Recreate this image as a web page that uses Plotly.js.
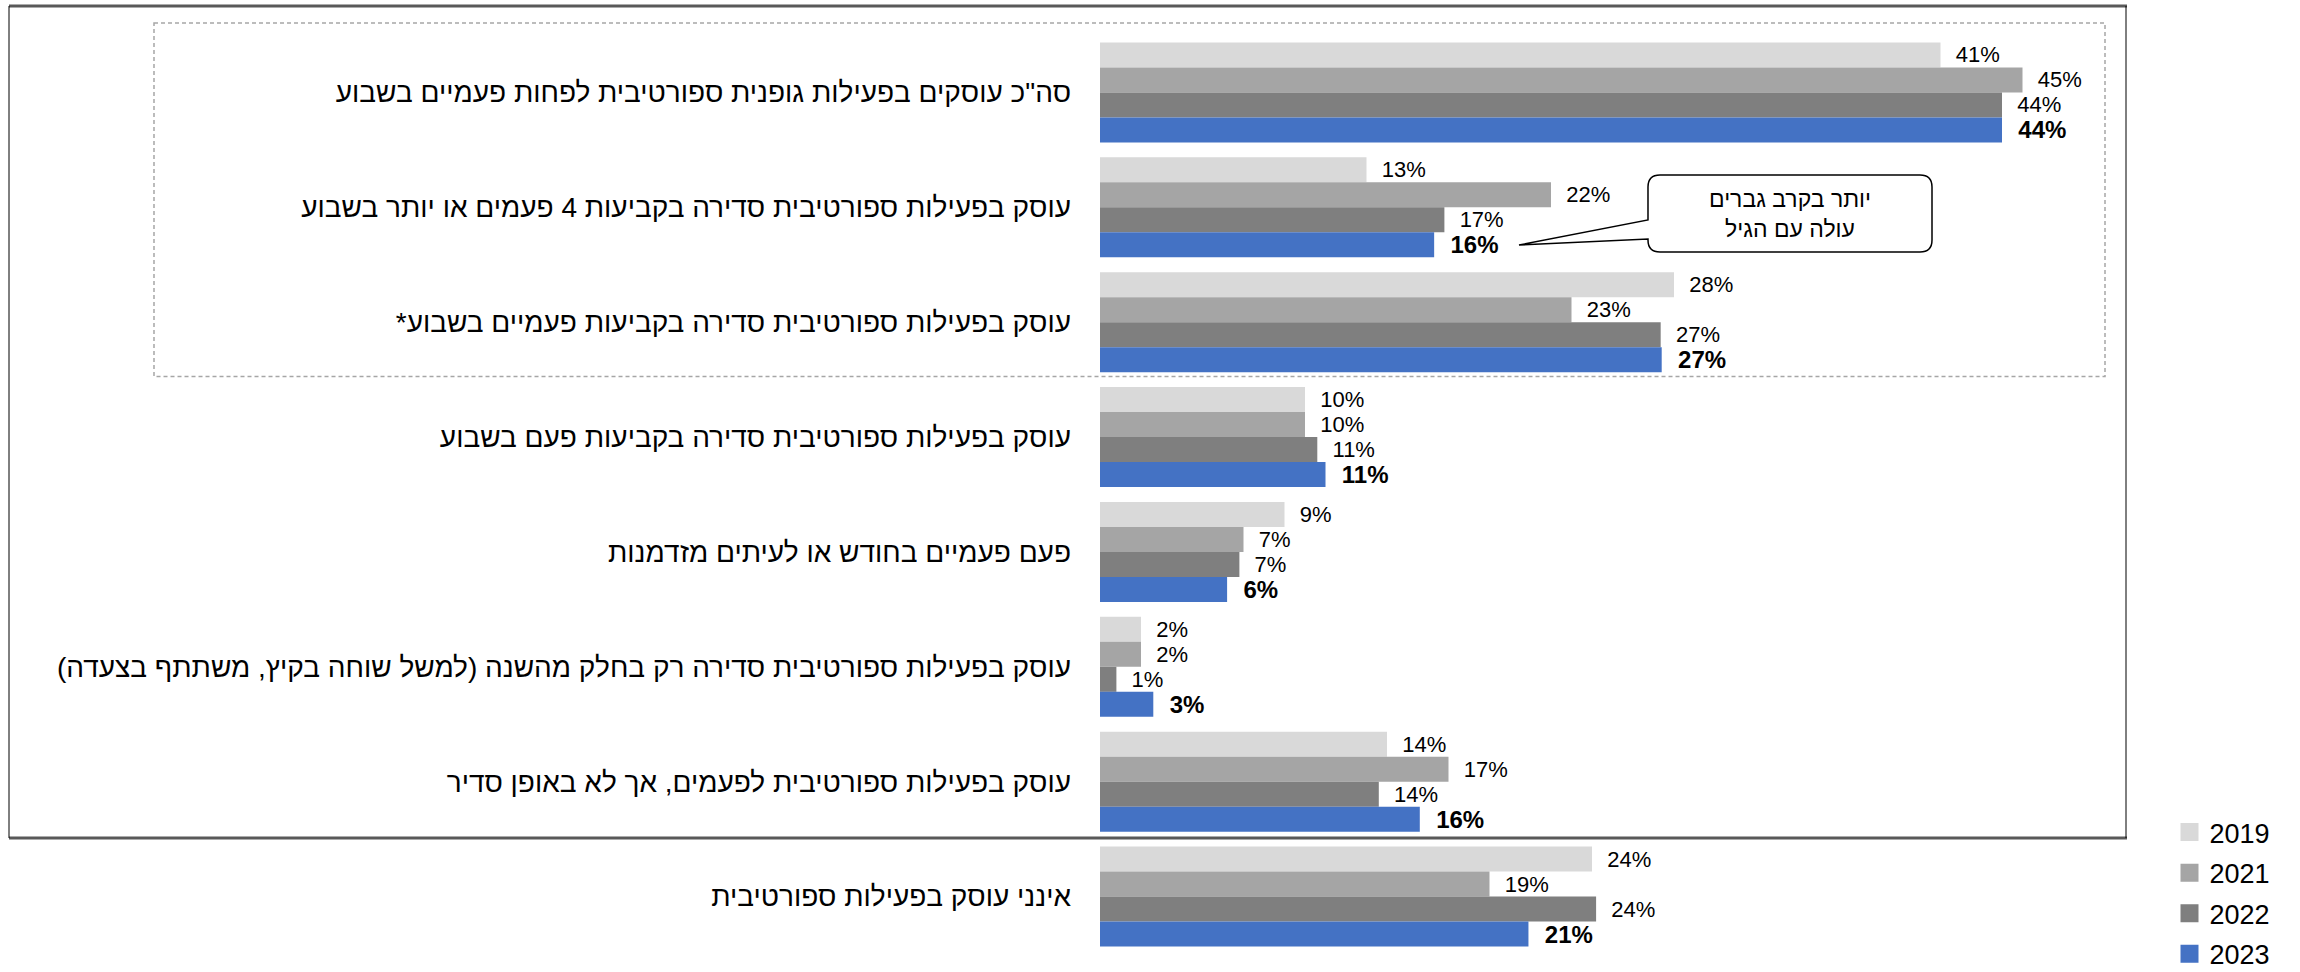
<!DOCTYPE html>
<html><head><meta charset="utf-8">
<script src="https://cdn.plot.ly/plotly-3.0.1.min.js"></script>
<style>html,body{margin:0;padding:0;background:#fff;} #chart{width:2300px;height:972px;}</style>
</head><body><div id="chart"></div>
<script>
const categories = [
  'סה"כ עוסקים בפעילות גופנית ספורטיבית לפחות פעמיים בשבוע',
  'עוסק בפעילות ספורטיבית סדירה בקביעות 4 פעמים או יותר בשבוע',
  'עוסק בפעילות ספורטיבית סדירה בקביעות פעמיים בשבוע*',
  'עוסק בפעילות ספורטיבית סדירה בקביעות פעם בשבוע',
  'פעם פעמיים בחודש או לעיתים מזדמנות',
  'עוסק בפעילות ספורטיבית סדירה רק בחלק מהשנה (למשל שוחה בקיץ, משתתף בצעדה)',
  'עוסק בפעילות ספורטיבית לפעמים, אך לא באופן סדיר',
  'אינני עוסק בפעילות ספורטיבית'
];
const years = ['2019', '2021', '2022', '2023'];
const v2019 = [41, 13, 28, 10, 9, 2, 14, 24];
const v2021 = [45, 22, 23, 10, 7, 2, 17, 19];
const v2022 = [44, 16.8, 27.35, 10.6, 6.8, 0.8, 13.6, 24.2];
const v2023 = [44, 16.3, 27.4, 11, 6.2, 2.6, 15.6, 20.9];
const calloutText = 'יותר בקרב גברים<br>עולה עם הגיל';

const colors = ['#D9D9D9', '#A5A5A5', '#7F7F7F', '#4472C4'];
const FONT = 'Liberation Sans, Arial, DejaVu Sans, sans-serif';
const RLM = '\u200F';
const NB = '\u00A0\u00A0';
const labels = categories.map(c => c + RLM);

const series = [v2019, v2021, v2022, v2023];
const traces = series.map((vals, i) => ({
  type: 'bar', orientation: 'h', name: years[i], legendgroup: years[i], showlegend: false,
  x: vals, y: labels,
  marker: {color: colors[i]},
  textposition: 'outside', cliponaxis: false, constraintext: 'none',
  texttemplate: i === 3 ? NB + '<b>%{x:.0f}%</b>' : NB + '%{x:.0f}%',
  textfont: {family: FONT, size: i === 3 ? 24 : 22, color: '#000'},
  hoverinfo: 'skip'
}));
// legend entries (square swatches like the original)
years.forEach((yr, i) => traces.push({
  type: 'scatter', mode: 'markers', name: yr, legendgroup: yr, showlegend: true,
  x: [null], y: [null],
  marker: {symbol: 'square', size: 16, color: colors[i], line: {color: colors[i], width: 2}},
  hoverinfo: 'skip'
}));

// pixel -> paper helpers for decorations
const L = 1100, W = 1025, T = 35, H = 919;
const px = x => ((x - L) / W).toFixed(5);
const py = y => (1 - (y - T) / H).toFixed(5);
const P = (x, y) => px(x) + ',' + py(y);

const cx0 = 1648, cx1 = 1932, cy0 = 175, cy1 = 252, r = 12;
const calloutPath = 'M' + P(cx0 + r, cy0) + ' L' + P(cx1 - r, cy0) + ' Q' + P(cx1, cy0) + ' ' + P(cx1, cy0 + r) +
  ' L' + P(cx1, cy1 - r) + ' Q' + P(cx1, cy1) + ' ' + P(cx1 - r, cy1) +
  ' L' + P(cx0 + r, cy1) + ' Q' + P(cx0, cy1) + ' ' + P(cx0, cy1 - r) +
  ' L' + P(cx0, 239) + ' L' + P(1519, 245) + ' L' + P(cx0, 220) +
  ' L' + P(cx0, cy0 + r) + ' Q' + P(cx0, cy0) + ' ' + P(cx0 + r, cy0) + ' Z';

const shapes = [
  {type: 'rect', xref: 'paper', yref: 'paper', x0: px(154), x1: px(2105), y0: py(23), y1: py(376.5),
   line: {color: '#A6A6A6', width: 1.5, dash: '4px,3px'}, layer: 'below'},
  {type: 'line', xref: 'paper', yref: 'paper', x0: px(9), x1: px(2127), y0: py(6), y1: py(6), line: {color: '#595959', width: 3}},
  {type: 'line', xref: 'paper', yref: 'paper', x0: px(9), x1: px(2127), y0: py(838), y1: py(838), line: {color: '#595959', width: 3}},
  {type: 'line', xref: 'paper', yref: 'paper', x0: px(9), x1: px(9), y0: py(6), y1: py(838), line: {color: '#000', width: 1}},
  {type: 'line', xref: 'paper', yref: 'paper', x0: px(2126), x1: px(2126), y0: py(6), y1: py(838), line: {color: '#000', width: 1}},
  {type: 'path', xref: 'paper', yref: 'paper', path: calloutPath, fillcolor: '#fff', line: {color: '#000', width: 1.5}, layer: 'above'}
];

const annotations = [
  {xref: 'paper', yref: 'paper', x: px(1790), y: py(214), text: calloutText, showarrow: false,
   font: {family: FONT, size: 23, color: '#000'}, align: 'center', xanchor: 'center', yanchor: 'middle'}
];

const layout = {
  width: 2300, height: 972,
  margin: {l: L, r: 2300 - L - W, t: T, b: 972 - T - H, autoexpand: false},
  paper_bgcolor: '#fff', plot_bgcolor: '#fff',
  barmode: 'group', bargap: 0.129, bargroupgap: 0,
  font: {family: FONT, color: '#000'},
  xaxis: {range: [0, 50], visible: false, fixedrange: true},
  yaxis: {autorange: 'reversed', ticks: '', showline: false, showgrid: false, zeroline: false,
          tickfont: {family: FONT, size: 28, color: '#000'}, ticklabelstandoff: 28},
  showlegend: true,
  legend: {x: (2169.5 - L) / W, xanchor: 'left', y: py(893), yanchor: 'middle',
           font: {family: FONT, size: 27, color: '#000'}, tracegroupgap: 2.5, traceorder: 'grouped',
           itemsizing: 'trace', bgcolor: 'rgba(0,0,0,0)'},
  shapes: shapes, annotations: annotations
};

Plotly.newPlot('chart', traces, layout, {staticPlot: true, displayModeBar: false});
</script>
</body></html>
